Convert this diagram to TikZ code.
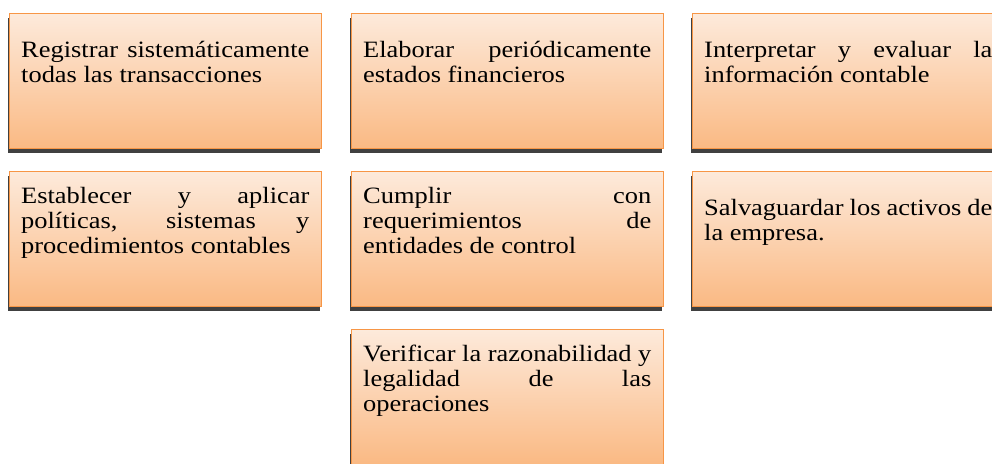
\documentclass[tikz,border=0pt]{standalone}
\usepackage{fontspec}
\setmainfont{Liberation Serif}
\usetikzlibrary{shadows}
\setlength{\parindent}{0pt}
\definecolor{boxline}{HTML}{F79646}
\definecolor{boxtop}{HTML}{FDEADB}
\definecolor{boxbot}{HTML}{FAB983}
\definecolor{shadowgray}{HTML}{404040}
\newcommand{\jline}[1]{\makebox[255pt][s]{#1}}
\newcommand{\hs}[1]{\scalebox{1.13}[1]{\parbox[t]{255pt}{\strut #1}}}
\begin{document}
\begin{tikzpicture}[x=1pt,y=1pt,
  box/.style={rectangle, anchor=north west, minimum width=312pt, minimum height=135pt,
    inner sep=0pt, draw=boxline, line width=1.4pt, top color=boxtop, bottom color=boxbot,
    drop shadow={shadow xshift=-1.5pt, shadow yshift=-4pt, fill=shadowgray, opacity=1}},
  txt/.style={anchor=north west, inner sep=0pt,
    font=\fontsize{23.4pt}{25pt}\selectfont}]
\clip (0,0) rectangle (992,-463);
\node[box] (b1) at (9,-13) {};
\node[box] (b2) at (351,-13) {};
\node[box] (b3) at (692,-13) {};
\node[box] (b4) at (9,-171) {};
\node[box] (b5) at (351,-171) {};
\node[box] (b6) at (692,-171) {};
\node[box] (b7) at (351,-329) {};
\node[txt] (t1) at ([xshift=12pt,yshift=-26.5pt]b1.north west)
  {\hs{\jline{Registrar sistemáticamente}\\todas las transacciones}};
\node[txt] (t2) at ([xshift=12pt,yshift=-26.5pt]b2.north west)
  {\hs{\jline{Elaborar periódicamente}\\estados financieros}};
\node[txt] (t3) at ([xshift=12pt,yshift=-26.5pt]b3.north west)
  {\hs{\jline{Interpretar y evaluar la}\\información contable}};
\node[txt] (t4) at ([xshift=12pt,yshift=-15pt]b4.north west)
  {\hs{\jline{Establecer y aplicar}\\\jline{políticas, sistemas y}\\procedimientos contables}};
\node[txt] (t5) at ([xshift=12pt,yshift=-15pt]b5.north west)
  {\hs{\jline{Cumplir con}\\\jline{requerimientos de}\\entidades de control}};
\node[txt] (t6) at ([xshift=12pt,yshift=-26.5pt]b6.north west)
  {\hs{\jline{Salvaguardar los activos de}\\la empresa.}};
\node[txt] (t7) at ([xshift=12pt,yshift=-15pt]b7.north west)
  {\hs{\jline{Verificar la razonabilidad y}\\\jline{legalidad de las}\\operaciones}};
\end{tikzpicture}
\end{document}
